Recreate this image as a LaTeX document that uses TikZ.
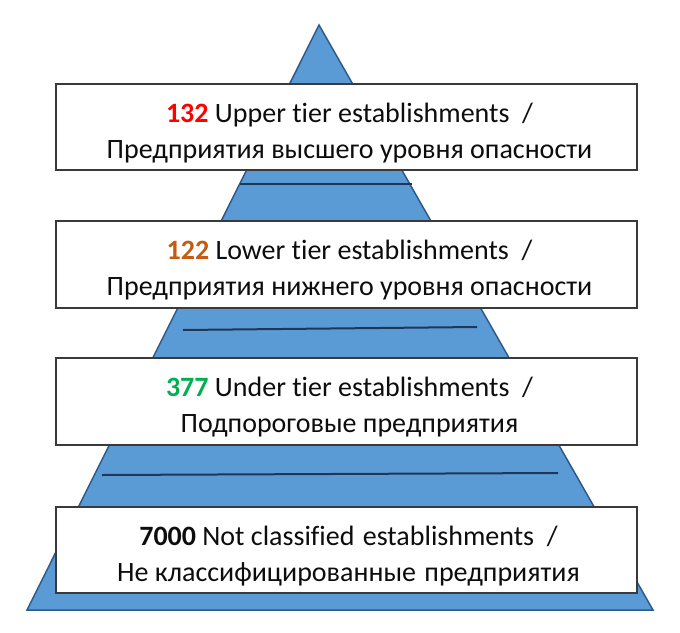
\documentclass[tikz,border=0pt]{standalone}
\usepackage{fontspec}
\setmainfont{Carlito}[Ligatures=NoCommon]
\definecolor{pyrfill}{HTML}{5B9BD5}
\definecolor{pyrline}{HTML}{2E5A8A}
\definecolor{tierline}{HTML}{1F3657}
\definecolor{boxline}{HTML}{3A3A3A}
\definecolor{numred}{HTML}{FF0000}
\definecolor{numbrown}{HTML}{C55A11}
\definecolor{numgreen}{HTML}{00B050}
\tikzset{
  pyr/.style={fill=pyrfill, draw=pyrline, line width=1.5pt, line join=miter},
  tier/.style={draw=tierline, line width=2pt},
  tierbox/.style={draw=boxline, fill=white, line width=1.5pt, rectangle,
    minimum width=581pt, minimum height=86pt, inner sep=0pt},
  tiertext/.style={align=center, inner sep=0pt,
    font=\fontsize{28}{36}\selectfont, text=black!95},
}
\begin{document}
\begin{tikzpicture}[x=1pt,y=-1pt]
\useasboundingbox (0,0) rectangle (680,632);
% pyramid
\coordinate (apex) at (319,25);
\coordinate (bl) at (27,610);
\coordinate (br) at (653,610);
\draw[pyr] (apex) -- (bl) -- (br) -- cycle;
% tier lines
\coordinate (l1a) at (240,184); \coordinate (l1b) at (412,184);
\coordinate (l2a) at (183,330); \coordinate (l2b) at (477,327);
\coordinate (l3a) at (102,475); \coordinate (l3b) at (558,473);
\draw[tier] (l1a) -- (l1b);
\draw[tier] (l2a) -- (l2b);
\draw[tier] (l3a) -- (l3b);
% boxes
\node[tierbox] (b1) at (346.5,127) {};
\node[tierbox, minimum height=87pt] (b2) at (346.5,264.5) {};
\node[tierbox, minimum height=87pt] (b3) at (346.5,401.5) {};
\node[tierbox] (b4) at (346.5,550) {};
% texts
\node[tiertext] (t1) at ([xshift=3pt,yshift=-6pt]b1.center) {{\color{numred}\textbf{132}} Upper tier establishments~ /\\Предприятия высшего уровня опасности};
\node[tiertext] (t2) at ([xshift=3pt,yshift=-6pt]b2.center) {{\color{numbrown}\textbf{122}} Lower tier establishments~ /\\Предприятия нижнего уровня опасности};
\node[tiertext] (t3) at ([xshift=3pt,yshift=-6pt]b3.center) {{\color{numgreen}\textbf{377}} Under tier establishments~ /\\Подпороговые предприятия};
\node[tiertext] (t4) at ([xshift=2pt,yshift=-6pt]b4.center) {\textbf{7000} Not classified\hspace{2pt} establishments~ /\\Не классифицированные\hspace{2pt} предприятия};
\end{tikzpicture}
\end{document}
